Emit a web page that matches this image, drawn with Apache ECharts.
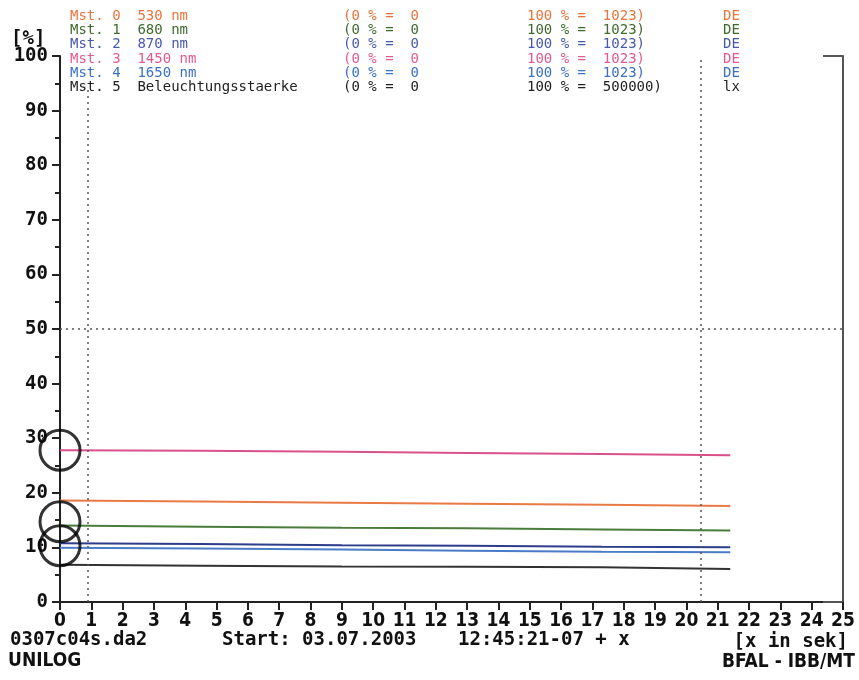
<!DOCTYPE html>
<html>
<head>
<meta charset="utf-8">
<script src="https://cdn.jsdelivr.net/npm/echarts@6/dist/echarts.min.js"></script>
<style>html,body{margin:0;padding:0;background:#fff}#c{width:859px;height:680px}</style>
</head>
<body>
<div id="c"></div>
<script>
// ---- data ----
const times = [0, 4.5, 9, 13, 17.3, 21.4];
const mst0 = [18.6, 18.4, 18.2, 18.0, 17.8, 17.6];   // 530 nm
const mst1 = [14.0, 13.8, 13.6, 13.5, 13.3, 13.1];   // 680 nm
const mst2 = [10.75, 10.6, 10.4, 10.3, 10.1, 10.05]; // 870 nm
const mst3 = [27.8, 27.7, 27.5, 27.3, 27.1, 26.9];   // 1450 nm
const mst4 = [9.95, 9.8, 9.6, 9.4, 9.2, 9.1];        // 1650 nm
const mst5 = [6.8, 6.65, 6.5, 6.45, 6.35, 6.05];     // Beleuchtungsstaerke
const circleMarks = [[0, 27.8], [0, 14.7], [0, 10.3]];
const guideX = [0.9, 20.45];
const guideXTop = [94, 100];
const guideY = [50];
const legendNames = ['Mst. 0  530 nm', 'Mst. 1  680 nm', 'Mst. 2  870 nm', 'Mst. 3  1450 nm', 'Mst. 4  1650 nm', 'Mst. 5  Beleuchtungsstaerke'];
const legendLow = ['(0 % =  0', '(0 % =  0', '(0 % =  0', '(0 % =  0', '(0 % =  0', '(0 % =  0'];
const legendHigh = ['100 % =  1023)', '100 % =  1023)', '100 % =  1023)', '100 % =  1023)', '100 % =  1023)', '100 % =  500000)'];
const legendUnit = ['DE', 'DE', 'DE', 'DE', 'DE', 'lx'];
const xTicks = [0, 25, 1];
const yTicks = [0, 100, 10];

// ---- styles ----
const lineColors = ['#e87a45', '#4a7d3c', '#2d3d8c', '#d9508a', '#4a7cc8', '#333333'];
const textColors = ['#e8743c', '#3f6a2e', '#4858a8', '#e45a90', '#3a70c8', '#222222'];
const FONT = '"DejaVu Sans Mono", monospace';
const CFONT = '"DejaVu Sans Condensed", "Liberation Sans Narrow", "DejaVu Sans", sans-serif';
const seriesData = [mst0, mst1, mst2, mst3, mst4, mst5];

const chart = echarts.init(document.getElementById('c'), null, {renderer: 'canvas'});

const series = seriesData.map((vals, i) => ({
  type: 'line',
  name: legendNames[i],
  data: vals.map((v, k) => [times[k], v]),
  showSymbol: false,
  lineStyle: {color: lineColors[i], width: 2},
  itemStyle: {color: lineColors[i]},
  z: 3,
  animation: false
}));

const dotted = {color: '#555', width: 1.5, type: [2, 4]};
series.push({
  type: 'line', data: [], animation: false,
  markLine: {
    symbol: 'none', silent: true, label: {show: false},
    lineStyle: dotted,
    data: [
      [{coord: [guideX[0], 0]}, {coord: [guideX[0], guideXTop[0]]}],
      [{coord: [guideX[1], 0]}, {coord: [guideX[1], guideXTop[1]]}],
      [{coord: [xTicks[0], guideY[0]]}, {coord: [xTicks[1], guideY[0]]}]
    ]
  }
});
series.push({
  type: 'scatter', data: circleMarks, symbol: 'circle', symbolSize: 40,
  itemStyle: {color: 'rgba(0,0,0,0)', borderColor: '#000', borderWidth: 3},
  z: 5, animation: false, silent: true
});

const graphics = [];
const rowY0 = 9, rowStep = 14.3;
for (let i = 0; i < 6; i++) {
  const y = rowY0 + i * rowStep;
  const st = {font: '14px ' + FONT, fill: textColors[i]};
  graphics.push({type: 'text', left: 70, top: y, style: Object.assign({text: legendNames[i]}, st)});
  graphics.push({type: 'text', left: 343, top: y, style: Object.assign({text: legendLow[i]}, st)});
  graphics.push({type: 'text', left: 527, top: y, style: Object.assign({text: legendHigh[i]}, st)});
  graphics.push({type: 'text', left: 723, top: y, style: Object.assign({text: legendUnit[i]}, st)});
}
const boldSt = {font: 'bold 19px ' + FONT, fill: '#111'};
const condSt = {font: 'bold 19px ' + CFONT, fill: '#111'};
graphics.push({type: 'text', left: 11, top: 30, style: Object.assign({text: '[%]'}, boldSt)});
graphics.push({type: 'text', left: 10, top: 631, style: Object.assign({text: '0307c04s.da2'}, boldSt)});
graphics.push({type: 'text', left: 222, top: 631, style: Object.assign({text: 'Start: 03.07.2003'}, boldSt)});
graphics.push({type: 'text', left: 458, top: 631, style: Object.assign({text: '12:45:21-07 + x'}, boldSt)});
graphics.push({type: 'text', right: 11, top: 633, style: Object.assign({text: '[x in sek]'}, boldSt)});
graphics.push({type: 'text', left: 8, top: 652, style: Object.assign({text: 'UNILOG'}, condSt)});
graphics.push({type: 'text', right: 4, top: 653, style: Object.assign({text: 'BFAL - IBB/MT'}, condSt)});

chart.setOption({
  animation: false,
  backgroundColor: '#fff',
  grid: {left: 60, right: 16, top: 56, bottom: 78, containLabel: false},
  xAxis: {
    type: 'value', min: xTicks[0], max: xTicks[1], interval: xTicks[2],
    axisLine: {show: true, lineStyle: {color: '#222', width: 2}},
    axisTick: {show: true, inside: false, length: 8, lineStyle: {color: '#222', width: 2}},
    axisLabel: {color: '#111', fontFamily: CFONT, fontWeight: 'bold', fontSize: 19, margin: 10},
    splitLine: {show: false}
  },
  yAxis: [{
    type: 'value', min: yTicks[0], max: yTicks[1], interval: yTicks[2],
    axisLine: {show: true, lineStyle: {color: '#222', width: 2}},
    axisTick: {show: true, inside: false, length: 8, lineStyle: {color: '#222', width: 2}},
    minorTick: {show: true, splitNumber: 2, length: 5, lineStyle: {color: '#222', width: 2}},
    axisLabel: {color: '#111', fontFamily: FONT, fontWeight: 'bold', fontSize: 19, margin: 12},
    splitLine: {show: false}
  }, {
    type: 'value', position: 'right', min: yTicks[0], max: yTicks[1], interval: yTicks[1],
    axisLine: {show: true, lineStyle: {color: '#555', width: 2}},
    axisTick: {show: true, inside: true, length: 20, lineStyle: {color: '#555', width: 2}},
    axisLabel: {show: false},
    splitLine: {show: false}
  }],
  series: series,
  graphic: graphics
});
</script>
</body>
</html>
